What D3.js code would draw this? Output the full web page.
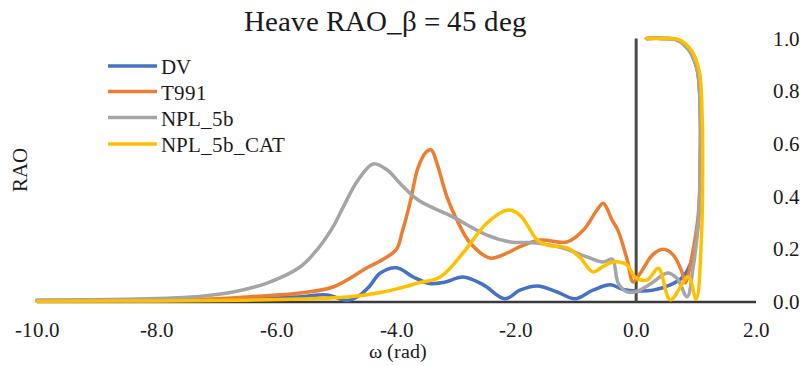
<!DOCTYPE html>
<html>
<head>
<meta charset="utf-8">
<script src="https://cdn.jsdelivr.net/npm/d3@7"></script>
<style>
  @font-face { font-family: "ChartSerif"; src: local("Liberation Serif"), local("LiberationSerif"), local("LiberationSerif-Regular"); }
  body { margin: 0; }
  #rao text { font-family: "ChartSerif", "Liberation Serif", serif; fill: #1a1a1a; }
</style>
</head>
<body>
<svg id="rao" width="805" height="366" font-family="Liberation Serif"></svg>
<script>
// Heave RAO curves against encounter frequency ω (paths fold back near ω ≈ 1.1)
const seriesNames = ["DV", "T991", "NPL_5b", "NPL_5b_CAT"];
const seriesColors = ["#4472C4", "#ED7D31", "#A5A5A5", "#FFC000"];

const omegaDV = [-10, -8, -7, -6.2, -5.6, -5.16, -4.82, -4.62, -4.45, -4.27, -4.0, -3.72, -3.45, -3.2, -2.89, -2.55, -2.19, -1.94, -1.65, -1.32, -1.02, -0.72, -0.43, -0.22, 0.03, 0.28, 0.57, 0.78, 0.93, 1.04, 1.07, 1.07, 1.02, 0.88, 0.68, 0.45, 0.17];
const raoDV = [0.004, 0.005, 0.007, 0.012, 0.02, 0.027, 0.006, 0.025, 0.06, 0.11, 0.13, 0.095, 0.07, 0.075, 0.095, 0.065, 0.012, 0.045, 0.061, 0.038, 0.012, 0.045, 0.065, 0.048, 0.042, 0.045, 0.065, 0.095, 0.16, 0.31, 0.53, 0.72, 0.88, 0.956, 0.995, 1.0, 1.0];

const omegaT991 = [-10, -8, -7, -6.44, -5.61, -5.06, -4.49, -4.2, -4.0, -3.9, -3.77, -3.64, -3.5, -3.42, -3.33, -3.16, -2.99, -2.77, -2.44, -2.15, -1.94, -1.6, -1.15, -0.88, -0.65, -0.55, -0.40, -0.30, -0.15, -0.05, 0.07, 0.27, 0.45, 0.62, 0.77, 0.82, 0.95, 1.04, 1.07, 1.07, 1.02, 0.88, 0.68, 0.45, 0.17];
const raoT991 = [0.004, 0.006, 0.012, 0.02, 0.034, 0.057, 0.13, 0.165, 0.2, 0.27, 0.38, 0.51, 0.57, 0.577, 0.53, 0.40, 0.31, 0.224, 0.167, 0.186, 0.21, 0.235, 0.228, 0.273, 0.35, 0.375, 0.31, 0.27, 0.16, 0.076, 0.11, 0.178, 0.20, 0.178, 0.11, 0.072, 0.197, 0.34, 0.53, 0.72, 0.88, 0.956, 0.995, 1.0, 1.0];

const omegaNPL = [-10, -8.35, -7.25, -6.73, -6.16, -5.61, -5.33, -5.06, -4.89, -4.65, -4.39, -4.15, -3.94, -3.64, -3.06, -2.49, -2.10, -1.65, -1.22, -0.82, -0.55, -0.40, -0.30, -0.15, 0.0, 0.25, 0.52, 0.68, 0.85, 0.95, 1.04, 1.07, 1.07, 1.02, 0.88, 0.68, 0.45, 0.17];
const raoNPL = [0.008, 0.011, 0.022, 0.038, 0.072, 0.133, 0.197, 0.285, 0.36, 0.46, 0.524, 0.50, 0.45, 0.387, 0.323, 0.254, 0.228, 0.224, 0.205, 0.171, 0.152, 0.163, 0.072, 0.038, 0.04, 0.07, 0.11, 0.09, 0.02, 0.13, 0.31, 0.53, 0.72, 0.88, 0.956, 0.995, 1.0, 1.0];

const omegaCAT = [-10, -8, -6.5, -5.61, -4.77, -4.22, -3.94, -3.64, -3.27, -2.89, -2.49, -2.14, -1.94, -1.65, -1.49, -1.15, -0.93, -0.72, -0.55, -0.38, -0.15, -0.02, 0.18, 0.37, 0.57, 0.87, 1.0, 1.09, 1.11, 1.10, 1.05, 0.92, 0.72, 0.45, 0.17];
const raoCAT = [0.003, 0.004, 0.007, 0.011, 0.02, 0.038, 0.053, 0.072, 0.095, 0.186, 0.30, 0.349, 0.33, 0.235, 0.216, 0.205, 0.167, 0.114, 0.135, 0.152, 0.14, 0.095, 0.083, 0.128, 0.008, 0.095, 0.01, 0.25, 0.53, 0.72, 0.88, 0.955, 0.995, 1.0, 1.0];

const xTicks = [-10, -8, -6, -4, -2, 0, 2];
const yTicks = [0, 0.2, 0.4, 0.6, 0.8, 1.0];

const series = [
  { name: seriesNames[0], color: seriesColors[0], w: omegaDV, r: raoDV },
  { name: seriesNames[1], color: seriesColors[1], w: omegaT991, r: raoT991 },
  { name: seriesNames[2], color: seriesColors[2], w: omegaNPL, r: raoNPL },
  { name: seriesNames[3], color: seriesColors[3], w: omegaCAT, r: raoCAT }
];

const svg = d3.select("#rao");
const x = d3.scaleLinear().domain([-10, 2]).range([37, 756]);
const y = d3.scaleLinear().domain([0, 1]).range([302, 38.5]);

// Horizontal axis line
svg.append("line")
  .attr("x1", x(-10)).attr("x2", x(2))
  .attr("y1", y(0)).attr("y2", y(0))
  .attr("stroke", "#3a3a3a").attr("stroke-width", 2.5);

// Vertical axis crossing at ω = 0
svg.append("line")
  .attr("x1", x(0)).attr("x2", x(0))
  .attr("y1", y(0)).attr("y2", y(1))
  .attr("stroke", "#4a4a4a").attr("stroke-width", 3);

// Tick labels along ω
svg.selectAll("text.xtick")
  .data(xTicks)
  .join("text")
  .attr("class", "xtick")
  .attr("x", d => x(d))
  .attr("y", y(0) + 35)
  .attr("text-anchor", "middle")
  .attr("font-size", 21)
  .text(d => d.toFixed(1));

// RAO value labels to the right of the plot
svg.selectAll("text.ytick")
  .data(yTicks)
  .join("text")
  .attr("class", "ytick")
  .attr("x", x(2) + 17)
  .attr("y", d => y(d) + 7)
  .attr("font-size", 21)
  .text(d => d.toFixed(1));

// Curves
const line = d3.line()
  .x(d => x(d[0]))
  .y(d => y(d[1]))
  .curve(d3.curveCatmullRom.alpha(0.5));

series.forEach(s => {
  const pts = s.w.map((w, i) => [w, s.r[i]]);
  svg.append("path")
    .datum(pts)
    .attr("d", line)
    .attr("fill", "none")
    .attr("stroke", s.color)
    .attr("stroke-width", 3.5)
    .attr("stroke-linejoin", "round")
    .attr("stroke-linecap", "round");
});

// Title and axis titles
svg.append("text")
  .attr("x", 385).attr("y", 31)
  .attr("text-anchor", "middle")
  .attr("font-size", 29)
  .text("Heave RAO_β = 45 deg");

svg.append("text")
  .attr("transform", "translate(27,170) rotate(-90)")
  .attr("text-anchor", "middle")
  .attr("font-size", 21)
  .text("RAO");

svg.append("text")
  .attr("x", 398).attr("y", 358)
  .attr("text-anchor", "middle")
  .attr("font-size", 20)
  .text("ω (rad)");

// Legend
const legendY = [66, 91.5, 117.5, 144];
series.forEach((s, i) => {
  svg.append("line")
    .attr("x1", 108).attr("x2", 157)
    .attr("y1", legendY[i]).attr("y2", legendY[i])
    .attr("stroke", s.color).attr("stroke-width", 3.5);
  svg.append("text")
    .attr("x", 161).attr("y", legendY[i] + 8)
    .attr("font-size", 21)
    .text(s.name);
});
</script>
</body>
</html>
